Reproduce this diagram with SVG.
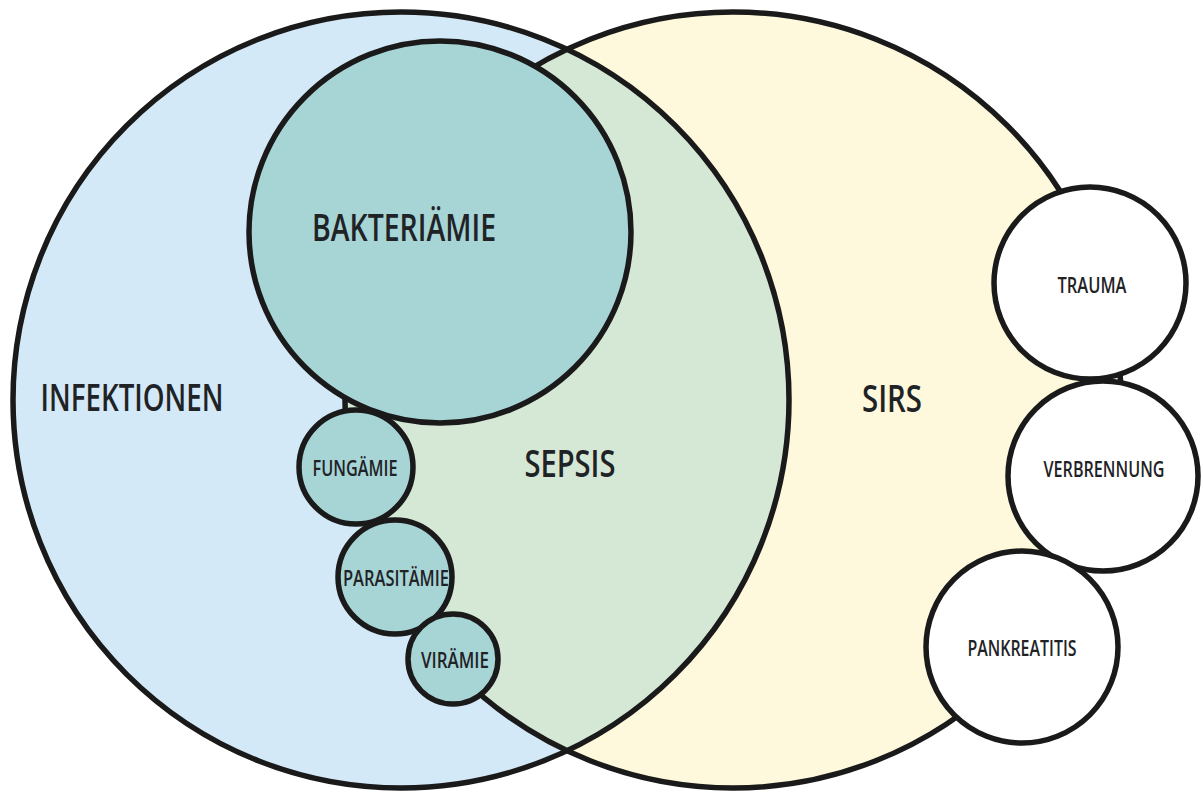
<svg xmlns="http://www.w3.org/2000/svg" width="1203" height="794" viewBox="0 0 1203 794">
<style>
.ln{stroke:#1a1a1a;stroke-width:5.5;}
.big{font-family:"Open Sans","Liberation Sans",sans-serif;font-weight:600;font-size:37px;fill:#1f2326;text-anchor:middle;}
.sm{font-family:"Open Sans","Liberation Sans",sans-serif;font-weight:600;font-size:21px;fill:#1f2326;text-anchor:middle;}
.teal{fill:#a7d5d6;}
.white{fill:#ffffff;}
</style>
<defs>
<clipPath id="clipL"><circle cx="401" cy="400" r="388"/></clipPath>
</defs>
<rect width="1203" height="794" fill="#ffffff"/>
<g id="infektionen">
<circle cx="401" cy="400" r="388" fill="#d4e9f8"/>
</g>
<g id="sirs">
<circle cx="733" cy="400" r="388" fill="#fef9dc"/>
</g>
<g id="sepsis">
<circle cx="733" cy="400" r="388" fill="#d5e8d6" clip-path="url(#clipL)"/>
</g>
<g id="outlines" fill="none">
<circle class="ln" cx="401" cy="400" r="388"/>
<circle class="ln" cx="733" cy="400" r="388"/>
</g>
<g id="bakteriaemie">
<circle class="ln teal" cx="440" cy="232" r="191"/>
<text class="big" x="404" y="241" textLength="184" lengthAdjust="spacingAndGlyphs">BAKTERIÄMIE</text>
</g>
<g id="fungaemie">
<circle class="ln teal" cx="356" cy="467" r="57"/>
<text class="sm" x="355" y="476" textLength="85" lengthAdjust="spacingAndGlyphs">FUNGÄMIE</text>
</g>
<g id="parasitaemie">
<circle class="ln teal" cx="395" cy="577" r="57"/>
<text class="sm" x="396" y="586" textLength="106" lengthAdjust="spacingAndGlyphs">PARASITÄMIE</text>
</g>
<g id="viraemie">
<circle class="ln teal" cx="453" cy="659" r="45"/>
<text class="sm" x="455" y="668" textLength="68" lengthAdjust="spacingAndGlyphs">VIRÄMIE</text>
</g>
<g id="trauma">
<circle class="ln white" cx="1090" cy="283" r="96"/>
<text class="sm" x="1092" y="293" textLength="69" lengthAdjust="spacingAndGlyphs">TRAUMA</text>
</g>
<g id="verbrennung">
<circle class="ln white" cx="1103" cy="476" r="95"/>
<text class="sm" x="1104" y="477" textLength="121" lengthAdjust="spacingAndGlyphs">VERBRENNUNG</text>
</g>
<g id="pankreatitis">
<circle class="ln white" cx="1022" cy="647" r="96"/>
<text class="sm" x="1022" y="656" textLength="109" lengthAdjust="spacingAndGlyphs">PANKREATITIS</text>
</g>
<g id="labels">
<text class="big" x="132" y="411" textLength="183" lengthAdjust="spacingAndGlyphs">INFEKTIONEN</text>
<text class="big" x="570" y="477" textLength="91" lengthAdjust="spacingAndGlyphs">SEPSIS</text>
<text class="big" x="892" y="412" textLength="60" lengthAdjust="spacingAndGlyphs">SIRS</text>
</g>
</svg>
